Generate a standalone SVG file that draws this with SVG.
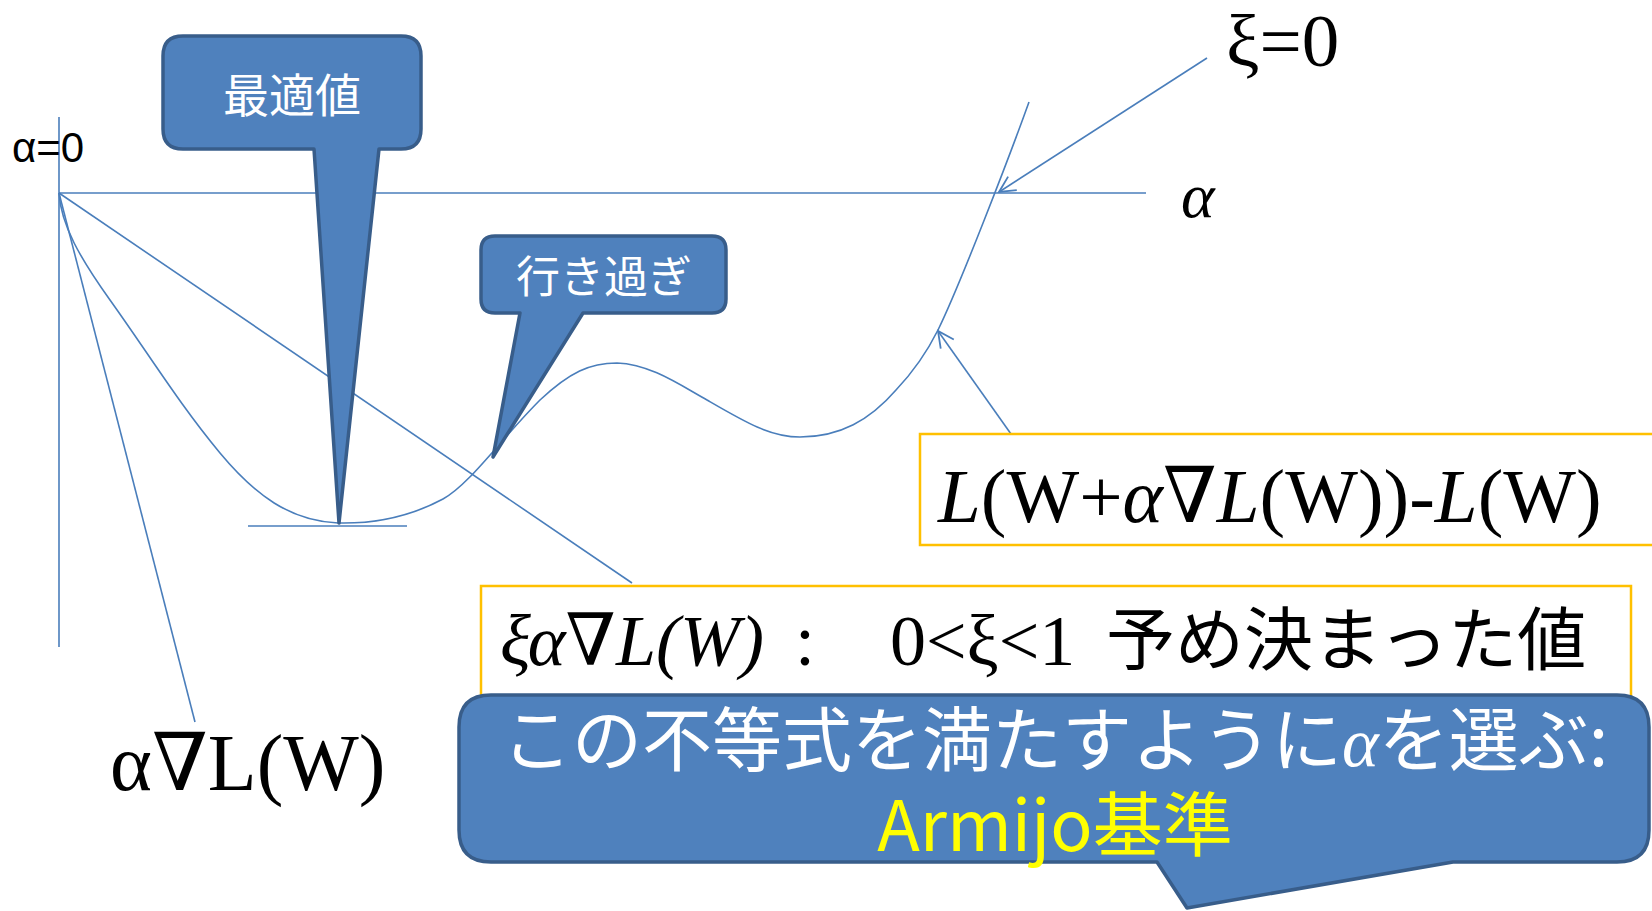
<svg xmlns="http://www.w3.org/2000/svg" width="1652" height="911" viewBox="0 0 1652 911">
<style>
.ln{fill:none;stroke:#4A7EBB;stroke-width:1.6}
.cl{fill:#4F81BD;stroke:#385D8A;stroke-width:3.5;stroke-linejoin:round}
.gb{fill:#FFFFFF;stroke:#FFC000;stroke-width:2.5}
.jw{font-family:"Noto Sans CJK JP","Noto Sans",sans-serif;fill:#FFFFFF}
.sr{font-family:"Liberation Serif","DejaVu Serif",serif;fill:#000000}
.it{font-style:italic}
</style>
<defs>
<marker id="oa" viewBox="0 0 20 20" refX="18" refY="10" markerWidth="20" markerHeight="20" markerUnits="userSpaceOnUse" orient="auto">
<path d="M2,2 L18,10 L2,18" fill="none" stroke="#4A7EBB" stroke-width="1.8"/>
</marker>
</defs>
<rect width="1652" height="911" fill="#FFFFFF"/>

<g id="connectors">
<line class="ln" x1="59" y1="117" x2="59" y2="647"/>
<line class="ln" x1="59" y1="193" x2="1146" y2="193"/>
<line class="ln" x1="59" y1="193" x2="195" y2="722"/>
<line class="ln" x1="59" y1="193" x2="632" y2="583"/>
<line class="ln" x1="248" y1="526" x2="407" y2="526"/>
<path id="curve" class="ln" d="M59,193 C61,225 80,258 110,300 C150,356 180,405 220,453 C255,495 290,521 338,523 C380,524 415,514 443,499 C470,484 500,440 540,400 C570,372 590,363 617,363 C650,364 680,385 707,400 C745,422 770,437 800,437 C840,437 870,420 896,390 C915,370 928,350 938,330 C960,285 1010,155 1029,102"/>
<line class="ln" x1="1207" y1="58" x2="999" y2="192" marker-end="url(#oa)"/>
<line class="ln" x1="1011" y1="434" x2="938" y2="331" marker-end="url(#oa)"/>
</g>

<g id="label-alpha0"><text x="12" y="162" font-family="Liberation Sans, Arial, sans-serif" font-size="42" fill="#000">α=0</text></g>
<g id="label-alpha"><text class="sr it" x="1181" y="217" font-size="64">α</text></g>
<g id="label-xi0"><text class="sr" x="1226" y="66" font-size="75">ξ=0</text></g>
<g id="label-grad"><text class="sr" x="110" y="790" font-size="80">α∇L(W)</text></g>

<g id="callout-opt">
<path class="cl" d="M183,36 H401 Q421,36 421,56 V129 Q421,149 401,149 H379 L339,523 L314,149 H183 Q163,149 163,129 V56 Q163,36 183,36 Z"/>
<text class="jw" x="292" y="112" font-size="46" text-anchor="middle">最適値</text>
</g>

<g id="callout-over">
<path class="cl" d="M495,236 H712 Q726,236 726,250 V299 Q726,313 712,313 H583 L493,457 L520,313 H495 Q481,313 481,299 V250 Q481,236 495,236 Z"/>
<text class="jw" x="604" y="293" font-size="44" text-anchor="middle">行き過ぎ</text>
</g>

<g id="box-loss">
<rect class="gb" x="920" y="434" width="745" height="111"/>
<text class="sr" x="938" y="522" font-size="77"><tspan class="it">L</tspan>(W+<tspan class="it">α</tspan>∇<tspan class="it">L</tspan>(W))-<tspan class="it">L</tspan>(W)</text>
</g>

<g id="box-xi">
<rect class="gb" x="481" y="586" width="1150" height="130"/>
<text class="sr" x="500" y="665" font-size="72"><tspan class="it">ξα</tspan>∇<tspan class="it">L(W)</tspan></text>
<text class="sr" x="795" y="665" font-size="72">:</text>
<text class="sr" x="890" y="665" font-size="72">0&lt;ξ&lt;1</text>
<text x="1106" y="665" font-family="Noto Sans CJK JP, sans-serif" font-size="69" fill="#000">予め決まった値</text>
</g>

<g id="callout-armijo">
<path class="cl" d="M491,695 H1617 Q1649,695 1649,727 V830 Q1649,862 1617,862 H1453 L1187,908 L1157,862 H491 Q459,862 459,830 V727 Q459,695 491,695 Z"/>
<text class="jw" font-size="70" text-anchor="middle"><tspan x="1055" y="766">この不等式を満たすように<tspan font-family="Liberation Serif, serif" font-style="italic">α</tspan>を選ぶ:</tspan><tspan x="1055" y="851" style="fill:#FFFF00">Armijo基準</tspan></text>
</g>
</svg>
